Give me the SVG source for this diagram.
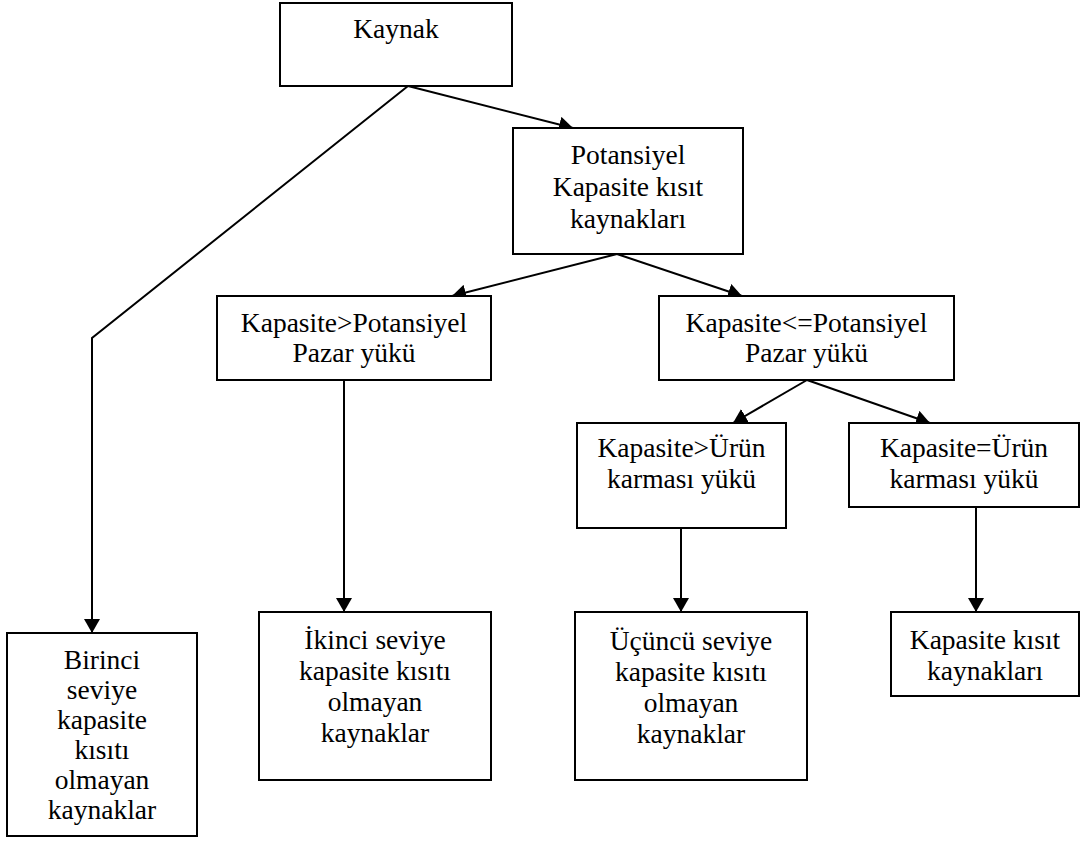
<svg xmlns="http://www.w3.org/2000/svg" width="1083" height="847" viewBox="0 0 1083 847">
  <style>
    .box { fill: #ffffff; stroke: #000000; stroke-width: 2; }
    text { font-family: Liberation Serif, Times New Roman, Times, serif; font-size: 27.5px; fill: #000000; text-anchor: middle; }
    .edge { fill: none; stroke: #000000; stroke-width: 2; }
  </style>
  <defs>
    <marker id="arrow" viewBox="0 0 14 16" refX="14" refY="8" markerWidth="14" markerHeight="16" markerUnits="userSpaceOnUse" orient="auto">
      <path d="M0,0 L14,8 L0,16 z" fill="#000000"/>
    </marker>
  </defs>
  <rect width="1083" height="847" fill="#ffffff"/>

  <!-- connectors -->
  <g id="connectors">
    <line class="edge" x1="408" y1="86" x2="573" y2="128" marker-end="url(#arrow)"/>
    <polyline class="edge" points="408,86 92,338 92,633" marker-end="url(#arrow)"/>
    <line class="edge" x1="617" y1="254" x2="452" y2="296" marker-end="url(#arrow)"/>
    <line class="edge" x1="617" y1="254" x2="742" y2="296" marker-end="url(#arrow)"/>
    <line class="edge" x1="344" y1="380" x2="344" y2="612" marker-end="url(#arrow)"/>
    <line class="edge" x1="807" y1="380" x2="733" y2="423" marker-end="url(#arrow)"/>
    <line class="edge" x1="807" y1="380" x2="930" y2="423" marker-end="url(#arrow)"/>
    <line class="edge" x1="681" y1="528" x2="681" y2="612" marker-end="url(#arrow)"/>
    <line class="edge" x1="976" y1="507" x2="976" y2="612" marker-end="url(#arrow)"/>
  </g>

  <g id="kaynak">
    <rect class="box" x="280" y="3" width="232" height="83"/>
    <text x="396" y="38" font-family="Liberation Serif">Kaynak</text>
  </g>

  <g id="potansiyel" font-family="Liberation Serif">
    <rect class="box" x="513" y="128" width="230" height="126"/>
    <text x="628" y="164">Potansiyel</text>
    <text x="628" y="196">Kapasite kısıt</text>
    <text x="628" y="228">kaynakları</text>
  </g>

  <g id="kapasite-buyuk-pazar">
    <rect class="box" x="217" y="296" width="274" height="84"/>
    <text x="354" y="332">Kapasite&gt;Potansiyel</text>
    <text x="354" y="362">Pazar yükü</text>
  </g>

  <g id="kapasite-kucuk-esit-pazar">
    <rect class="box" x="659" y="296" width="295" height="84"/>
    <text x="806.5" y="332">Kapasite&lt;=Potansiyel</text>
    <text x="806.5" y="362">Pazar yükü</text>
  </g>

  <g id="kapasite-buyuk-urun">
    <rect class="box" x="577" y="423" width="209" height="105"/>
    <text x="681.5" y="457">Kapasite&gt;Ürün</text>
    <text x="681.5" y="488">karması yükü</text>
  </g>

  <g id="kapasite-esit-urun">
    <rect class="box" x="849" y="423" width="230" height="84"/>
    <text x="964" y="457">Kapasite=Ürün</text>
    <text x="964" y="488">karması yükü</text>
  </g>

  <g id="birinci">
    <rect class="box" x="7" y="633" width="190" height="203"/>
    <text x="102" y="669">Birinci</text>
    <text x="102" y="699">seviye</text>
    <text x="102" y="729">kapasite</text>
    <text x="102" y="759">kısıtı</text>
    <text x="102" y="789">olmayan</text>
    <text x="102" y="819">kaynaklar</text>
  </g>

  <g id="ikinci">
    <rect class="box" x="259" y="612" width="232" height="168"/>
    <text x="375" y="649">İkinci seviye</text>
    <text x="375" y="680">kapasite kısıtı</text>
    <text x="375" y="711">olmayan</text>
    <text x="375" y="742">kaynaklar</text>
  </g>

  <g id="ucuncu">
    <rect class="box" x="575" y="612" width="232" height="168"/>
    <text x="691" y="650">Üçüncü seviye</text>
    <text x="691" y="681">kapasite kısıtı</text>
    <text x="691" y="712">olmayan</text>
    <text x="691" y="743">kaynaklar</text>
  </g>

  <g id="kapasite-kisit">
    <rect class="box" x="891" y="612" width="188" height="84"/>
    <text x="985" y="649">Kapasite kısıt</text>
    <text x="985" y="680">kaynakları</text>
  </g>
</svg>
